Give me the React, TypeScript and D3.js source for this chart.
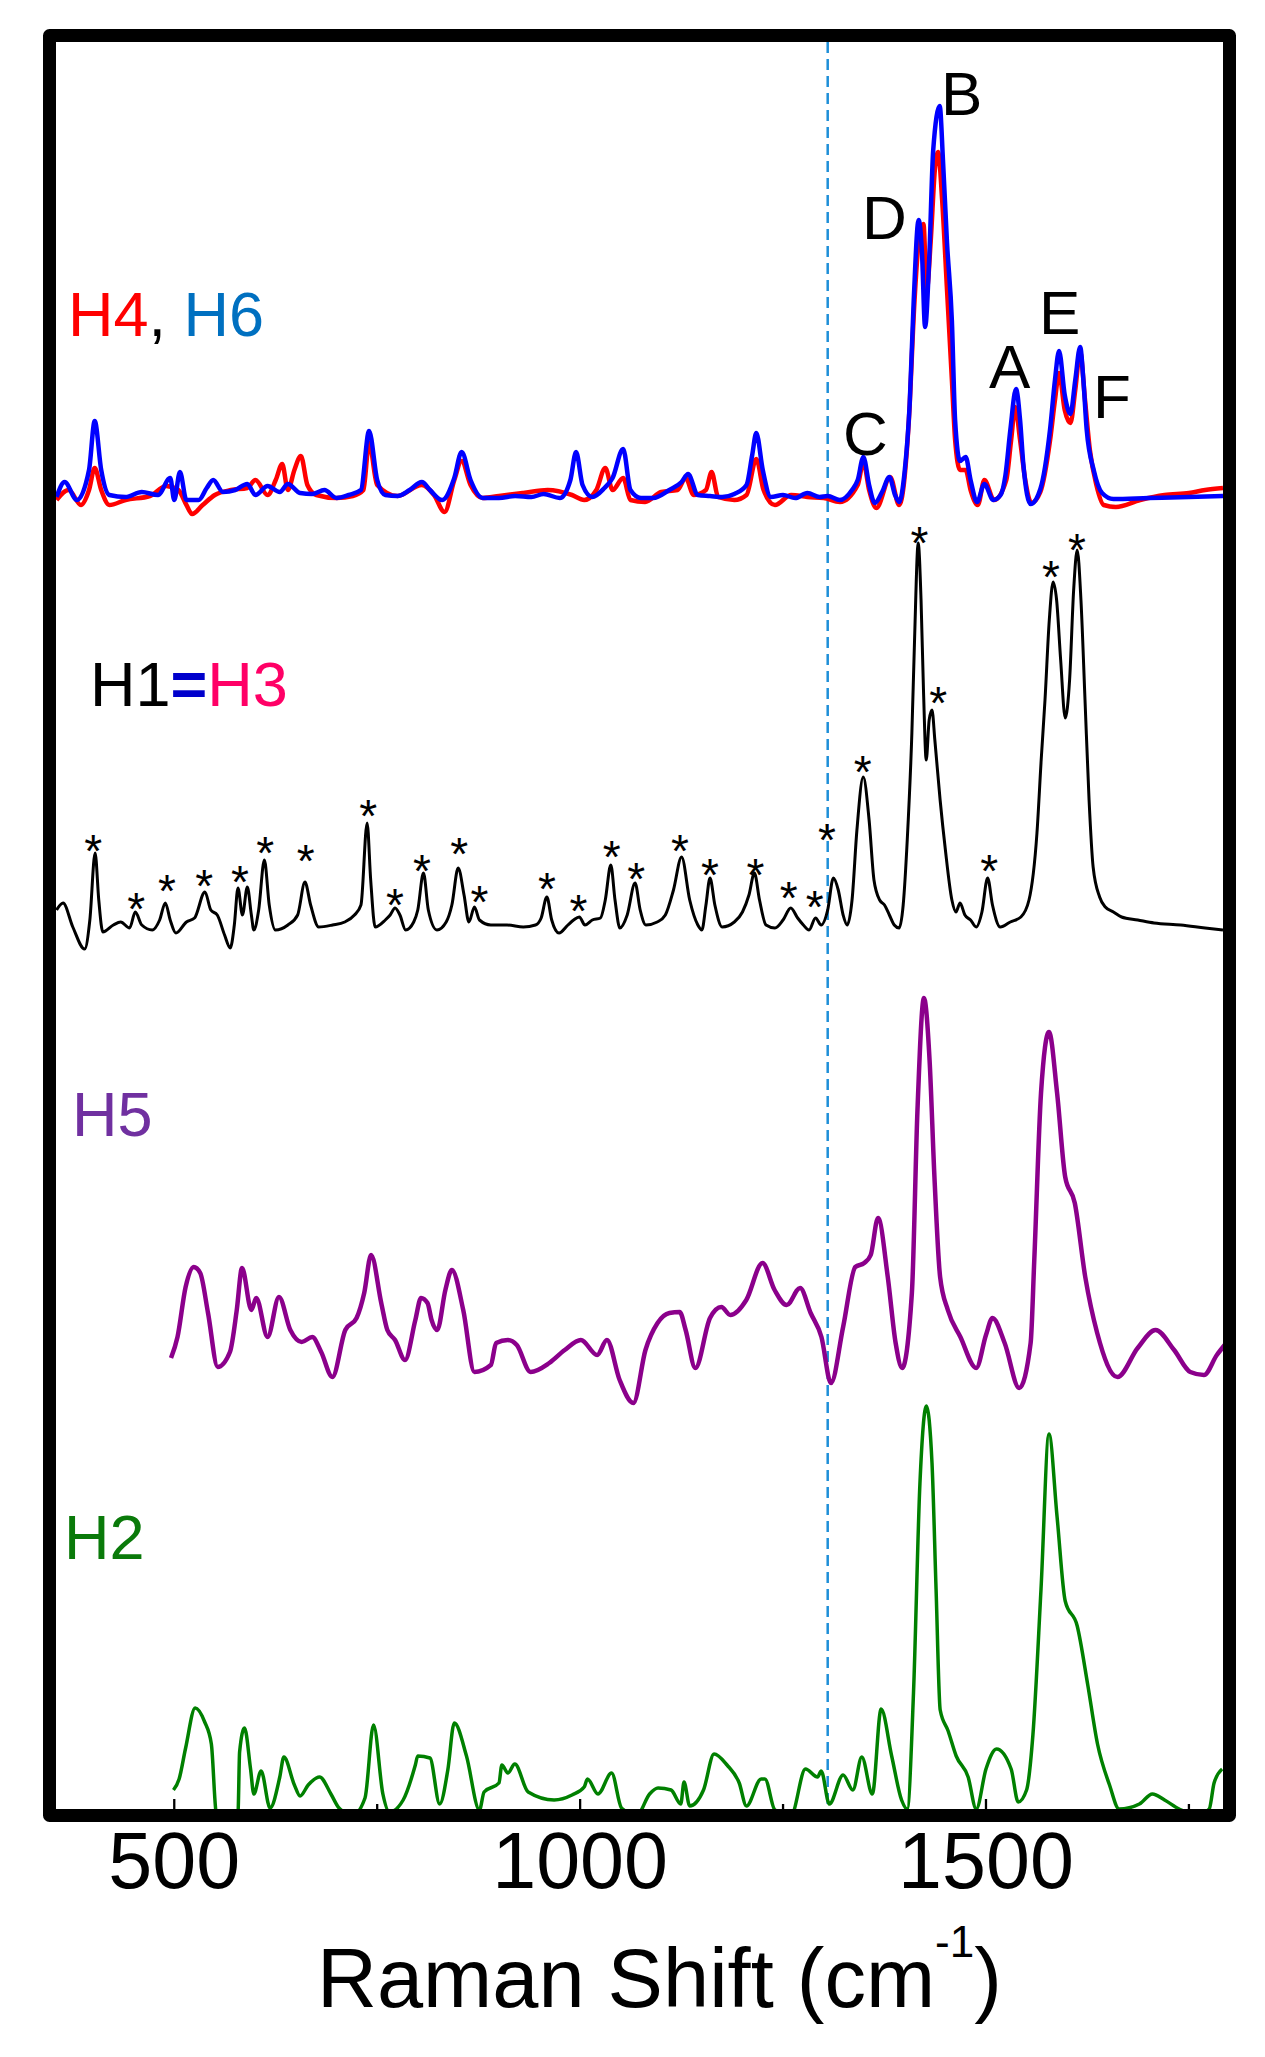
import React from "react";
import * as d3 from "d3";

type Pt = [number, number];

// x-axis ticks (cm-1)
const majorTicks = [500, 1000, 1500];
const minorTicks = [750, 1250, 1750];
const dashedShift = 1305;

// vertical offsets (a.u.) of the stacked traces
const offsetTop = 1311;
const offsetH1 = 882;
const offsetH5 = 439;
const offsetH2 = 9;

// H4 (red) — [Raman shift, intensity above its baseline]
const h4: Pt[] = [
  [355, -2], [370, 8], [385, -7], [395, 8], [402, 30], [410, 8], [420, -7], [440, -2], [470, 2], [490, 12],
  [505, 8], [515, -7], [522, -16], [535, -7], [550, 3], [570, 8], [590, 10], [600, 18], [615, 3], [625, 18],
  [633, 34], [640, 8], [648, 28], [656, 42], [664, 13], [675, 3], [700, 0], [720, 2], [733, 8], [740, 55],
  [750, 13], [775, 2], [805, 13], [820, 3], [833, -14], [845, 18], [854, 37], [865, 13], [880, 0], [900, 2],
  [930, 5], [960, 8], [990, 3], [1005, -2], [1020, 8], [1031, 30], [1040, 8], [1053, 20], [1062, -2], [1080, -4],
  [1100, 6], [1120, 8], [1130, 20], [1140, 3], [1155, 8], [1162, 26], [1170, 1], [1190, -2], [1205, 3], [1217, 39],
  [1226, 8], [1240, -7], [1260, 3], [1280, 1], [1300, 0], [1320, -4], [1342, 13], [1349, 36], [1356, 8], [1365, -10],
  [1382, 21], [1393, -7], [1405, 78], [1412, 198], [1418, 263], [1423, 274], [1427, 208], [1432, 258], [1437, 328], [1441, 346],
  [1446, 298], [1452, 208], [1458, 118], [1462, 58], [1468, 28], [1475, 28], [1481, 8], [1490, -7], [1498, 18], [1510, -2],
  [1525, 18], [1531, 58], [1536, 91], [1542, 58], [1548, 20], [1556, -5], [1567, 6], [1579, 58], [1585, 98], [1590, 125],
  [1597, 88], [1604, 75], [1610, 108], [1616, 146], [1622, 98], [1628, 48], [1636, 13], [1645, -7], [1660, -9], [1690, -2],
  [1720, 3], [1750, 5], [1770, 8], [1792, 10],
];

// H6 (blue)
const h6: Pt[] = [
  [355, 1], [365, 16], [380, -2], [395, 28], [402, 77], [410, 28], [420, 3], [440, 1], [460, 6], [480, 3],
  [495, 20], [500, -2], [507, 26], [515, -2], [530, -2], [540, 10], [548, 18], [560, 6], [575, 8], [590, 14],
  [600, 3], [615, 12], [630, 6], [640, 14], [655, 5], [670, 4], [685, 8], [700, 0], [715, 3], [730, 8],
  [740, 67], [750, 18], [760, 3], [775, 2], [790, 8], [805, 16], [815, 8], [830, -2], [845, 20], [854, 46],
  [865, 18], [880, 0], [900, 0], [920, 2], [940, 1], [955, 4], [975, 0], [988, 18], [995, 46], [1003, 13],
  [1015, 1], [1030, 10], [1040, 20], [1053, 49], [1062, 8], [1075, 0], [1090, 0], [1110, 8], [1125, 16], [1133, 24],
  [1145, 3], [1160, 2], [1175, 1], [1190, 4], [1205, 13], [1212, 43], [1217, 65], [1225, 28], [1235, 1], [1250, 3],
  [1265, 0], [1280, 5], [1295, 1], [1305, 2], [1320, -2], [1335, 8], [1342, 18], [1349, 41], [1356, 13], [1363, -5],
  [1372, 6], [1381, 21], [1388, 3], [1393, -4], [1400, 28], [1406, 94], [1411, 198], [1417, 278], [1421, 248], [1425, 171],
  [1430, 238], [1435, 348], [1443, 392], [1447, 338], [1452, 255], [1458, 177], [1462, 77], [1468, 37], [1475, 41], [1481, 18],
  [1489, -4], [1498, 14], [1509, -2], [1518, 3], [1524, 23], [1530, 68], [1537, 109], [1542, 78], [1546, 34], [1555, -6],
  [1567, 9], [1579, 69], [1585, 118], [1590, 147], [1597, 103], [1604, 84], [1610, 118], [1616, 151], [1620, 118], [1624, 69],
  [1633, 27], [1643, 5], [1657, -1], [1700, 0], [1750, 1], [1792, 2],
];

// H1 = H3 (black)
const h1: Pt[] = [
  [355, 17], [363, 24], [375, 0], [389.6, -22], [396, 7], [402.5, 74], [407, 27], [412, -5], [425, 2], [434, 5],
  [445, -1], [452, 15], [460, 2], [473, -3], [482, 7], [489, 24], [495, 7], [502, -6], [515, 5], [525, 9],
  [537.8, 35], [545, 17], [553, 12], [562, -8], [569, -21], [574, 2], [578.5, 39], [584, 12], [590, 40], [595, 12],
  [598, -3], [604, 17], [611, 67], [617, 22], [624.6, -3], [640, 2], [652, 12], [661, 45], [668, 22], [678, 0],
  [695, 2], [710, 5], [722, 12], [730, 22], [737.6, 104], [742, 47], [747.5, 0], [760, 7], [766, 12], [772, 19],
  [778, 12], [785, -3], [795, 5], [800, 17], [807, 54], [813, 17], [823.6, -3], [835, 5], [842, 22], [849.8, 59],
  [857, 32], [863, 5], [869.8, 20], [876, 7], [890, 2], [910, 2], [930, 0], [945, 2], [952, 9], [959, 30],
  [965, 7], [974, -6], [985, 2], [992, 7], [999, 10], [1006, 2], [1015, 7], [1025, 9], [1031, 27], [1037.8, 62],
  [1043, 27], [1049, -1], [1058, 12], [1067.7, 44], [1074, 17], [1081, 2], [1095, 5], [1105, 12], [1115, 37], [1125, 70],
  [1135, 27], [1145, 2], [1150, -3], [1155, 22], [1160, 49], [1166, 22], [1175, 0], [1190, 5], [1200, 15], [1208, 32],
  [1214.7, 54], [1221, 27], [1229, 2], [1240, -1], [1250, 7], [1259.5, 19], [1268, 9], [1275, 2], [1282, -3], [1290, 9],
  [1297, 2], [1305, 17], [1312, 49], [1318, 37], [1324, 12], [1329, 2], [1335, 27], [1341, 97], [1348.8, 150], [1356, 107],
  [1362, 47], [1369, 27], [1375, 22], [1381, 12], [1387, 2], [1393, -1], [1398, 22], [1403, 87], [1408.7, 194], [1412, 287],
  [1416.5, 384], [1420, 327], [1423, 237], [1426.4, 167], [1430, 207], [1433.5, 217], [1437, 187], [1443.5, 127], [1450, 77], [1458, 27],
  [1463, 15], [1468, 24], [1474, 12], [1481, 7], [1488, 0], [1495, 15], [1502, 49], [1508, 22], [1517.7, 0], [1530, 5],
  [1543, 10], [1553, 27], [1562.8, 94], [1568, 167], [1572.7, 227], [1578, 307], [1582.7, 345], [1587, 327], [1592, 267], [1597.6, 209],
  [1603, 247], [1608, 337], [1612.4, 377], [1617, 327], [1622, 227], [1627, 127], [1632, 60], [1640, 30], [1647, 20], [1657, 15],
  [1667, 10], [1687, 7], [1707, 4], [1740, 2], [1770, -1], [1792, -3],
];

// asterisk marks on H1 = H3
const starMarks: Pt[] = [
  [400, 85], [453, 27], [491, 45], [537, 50], [581, 54], [612, 83], [662, 75], [739, 120], [772, 31], [805, 65],
  [851, 82], [876, 34], [959, 47], [998, 25], [1039, 79], [1069, 57], [1123, 85], [1160, 61], [1216, 61], [1257, 38],
  [1289, 29], [1304, 96], [1348, 164], [1418, 393], [1441, 233], [1504, 65], [1580, 359], [1612, 386],
];

// H5 (purple)
const h5: Pt[] = [
  [496, 12], [504, 33], [514, 83], [524, 103], [532, 97], [541.6, 57], [553.6, 3], [568.6, 18], [577, 60], [583.5, 102],
  [595, 60], [601, 72], [615, 33], [629, 73], [643, 40], [657, 28], [670, 33], [681, 18], [694.8, -7], [710.7, 40],
  [724.6, 52], [734, 77], [742.5, 115], [755, 67], [762.5, 40], [772, 30], [784.3, 10], [797, 50], [804, 72], [812, 67],
  [817, 50], [824, 40], [834, 80], [842, 100], [856, 60], [869.8, -2], [890, 5], [896.5, 27], [911, 30], [922, 25],
  [939, -2], [962, 7], [981, 20], [1001, 30], [1021, 15], [1033, 30], [1048.7, -10], [1065.6, -33], [1080.5, 20], [1095.4, 47],
  [1110, 57], [1122.6, 58], [1130, 40], [1142, 2], [1160, 52], [1174, 63], [1185, 55], [1204.7, 70], [1224.7, 107], [1239.6, 80],
  [1254.5, 65], [1271, 82], [1284, 57], [1297.3, 33], [1309, -13], [1324, 43], [1339, 103], [1350, 107], [1358, 115], [1367, 152],
  [1379, 93], [1388.7, 27], [1396.7, 2], [1408.7, 77], [1415.6, 260], [1423.6, 372], [1430.5, 310], [1436.5, 193], [1443.5, 93], [1453, 60],
  [1468.5, 33], [1488, 2], [1500, 35], [1508, 52], [1523, 27], [1541, -18], [1555, 27], [1559.5, 110], [1567.8, 277], [1577.6, 338],
  [1587.6, 277], [1597.6, 193], [1609.4, 167], [1622.3, 93], [1637, 37], [1662, -7], [1686.9, 22], [1708.9, 40], [1731.8, 20], [1751.7, -2],
  [1768.5, -5], [1784.4, 15], [1794, 25],
];

// H2 (green)
const h2: Pt[] = [
  [499, 10], [506, 21], [514, 52], [525.8, 92], [537.5, 78], [545.7, 56], [551.8, -14], [565, -30], [578.5, -14], [580.5, 48],
  [586.5, 72], [594, 31], [598, 6], [607, 29], [618, -8], [630, 23], [635, 43], [648, 15], [655, 4], [665, 15],
  [679, 23], [693, 6], [703, -8], [720, -15], [735, 2], [745.5, 75], [757, 6], [765, -12], [782, 0], [797, 35],
  [800, 44], [815, 42], [827, -4], [837, 30], [845, 77], [860, 44], [876, -10], [881.7, 8], [900, 17], [903.6, 35],
  [911, 27], [919.5, 36], [936, 8], [968, 0], [990, 5], [1005, 13], [1009, 21], [1022, 6], [1038.8, 27], [1051, -8],
  [1070, -15], [1085.6, 6], [1096, 12], [1112, 10], [1124, -4], [1128, 18], [1135, -6], [1152, 10], [1165, 46], [1181, 35],
  [1196, 17], [1204.9, -6], [1223, 21], [1227.7, 21], [1240, -10], [1260, -15], [1277.6, 31], [1292.5, 23], [1297, 29], [1307, -4],
  [1324, 25], [1336, 10], [1347, 43], [1360, 6], [1370.8, 91], [1383.8, 44], [1396, 0], [1403, -9], [1410.7, 107], [1418.6, 316],
  [1426.6, 394], [1433.5, 337], [1438.5, 211], [1443.6, 90], [1453.4, 69], [1463.3, 44], [1478, 23], [1488, -9], [1500, 31], [1513, 51],
  [1531, 31], [1539.7, -2], [1550, 10], [1557.8, 65], [1567.8, 211], [1577.6, 366], [1587.6, 283], [1597.6, 199], [1612.4, 174], [1625.4, 115],
  [1637.4, 56], [1652.2, 15], [1664, -9], [1689, -4], [1705, 6], [1720, 0], [1738, -9], [1760, -15], [1775, -9], [1781, 17],
  [1791, 31],
];

const FONT = "'Liberation Sans', Arial, Helvetica, sans-serif";

export default function App() {
  const x = d3.scaleLinear().domain([350, 1800]).range([52.5, 1229.5]);
  const y = d3.scaleLinear().domain([0, 1767]).range([1809, 42]);
  const mk = (off: number) =>
    d3
      .line<Pt>()
      .x((d) => x(d[0]))
      .y((d) => y(d[1] + off))
      .curve(d3.curveMonotoneX);

  const inner = { x0: 56, x1: 1223, y0: 42, y1: 1809 };
  const starFs = 46;

  return (
    <svg
      width={1265}
      height={2057}
      viewBox="0 0 1265 2057"
      style={{ position: "absolute", left: 0, top: 0, background: "#fff" }}
      fontFamily={FONT}
    >
      <defs>
        <clipPath id="plotClip">
          <rect x={inner.x0} y={inner.y0} width={inner.x1 - inner.x0} height={inner.y1 - inner.y0} />
        </clipPath>
      </defs>
      <rect x={0} y={0} width={1265} height={2057} fill="#fff" />

      <g clipPath="url(#plotClip)">
        <line
          x1={x(dashedShift)}
          x2={x(dashedShift)}
          y1={inner.y0}
          y2={inner.y1}
          stroke="#1E8FD8"
          strokeWidth={2.5}
          strokeDasharray="11 6"
        />
        <path d={mk(offsetTop)(h4) || ""} fill="none" stroke="#FF0000" strokeWidth={4.5} strokeLinejoin="round" />
        <path d={mk(offsetTop)(h6) || ""} fill="none" stroke="#0000FF" strokeWidth={4.5} strokeLinejoin="round" />
        <path d={mk(offsetH1)(h1) || ""} fill="none" stroke="#000" strokeWidth={3} strokeLinejoin="round" />
        <path d={mk(offsetH5)(h5) || ""} fill="none" stroke="#8B008B" strokeWidth={4.5} strokeLinejoin="round" />
        <path d={mk(offsetH2)(h2) || ""} fill="none" stroke="#008000" strokeWidth={3.5} strokeLinejoin="round" />
      </g>

      {starMarks.map((s, i) => (
        <text
          key={"s" + i}
          x={x(s[0])}
          y={y(s[1] + offsetH1) + 0.55 * starFs}
          fontSize={starFs}
          textAnchor="middle"
          fill="#000"
        >
          *
        </text>
      ))}

      {/* peak letters */}
      <g fontSize={62} fill="#000">
        <text x={941} y={115}>B</text>
        <text x={862} y={238.6}>D</text>
        <text x={843} y={455}>C</text>
        <text x={989} y={387.5}>A</text>
        <text x={1039} y={334}>E</text>
        <text x={1093} y={418}>F</text>
      </g>

      {/* trace labels */}
      <text x={68} y={336} fontSize={63}>
        <tspan fill="#FF0000">H4</tspan>
        <tspan fill="#000">, </tspan>
        <tspan fill="#0070C0">H6</tspan>
      </text>
      <text x={90} y={706} fontSize={63}>
        <tspan fill="#000">H1</tspan>
        <tspan fill="#0000CC" fontWeight="bold">=</tspan>
        <tspan fill="#FF0066">H3</tspan>
      </text>
      <text x={72} y={1136} fontSize={63} fill="#7030A0">H5</text>
      <text x={64} y={1559} fontSize={63} fill="#0A7A0A">H2</text>

      {/* ticks */}
      {majorTicks.map((t) => (
        <g key={"M" + t}>
          <line x1={x(t)} x2={x(t)} y1={inner.y1 - 10} y2={inner.y1} stroke="#000" strokeWidth={2.3} />
          <text x={x(t)} y={1888} fontSize={79} textAnchor="middle" fill="#000">
            {t}
          </text>
        </g>
      ))}
      {minorTicks.map((t) => (
        <line key={"m" + t} x1={x(t)} x2={x(t)} y1={inner.y1 - 5} y2={inner.y1} stroke="#000" strokeWidth={2.3} />
      ))}

      {/* frame */}
      <rect
        x={49.5}
        y={35.5}
        width={1180}
        height={1780}
        fill="none"
        stroke="#000"
        strokeWidth={13}
        strokeLinejoin="round"
      />

      {/* axis title */}
      <text x={317} y={2007} fontSize={83} fill="#000">
        Raman Shift (cm
        <tspan fontSize={44} dy={-50}>-1</tspan>
        <tspan fontSize={83} dy={50}>)</tspan>
      </text>
    </svg>
  );
}
